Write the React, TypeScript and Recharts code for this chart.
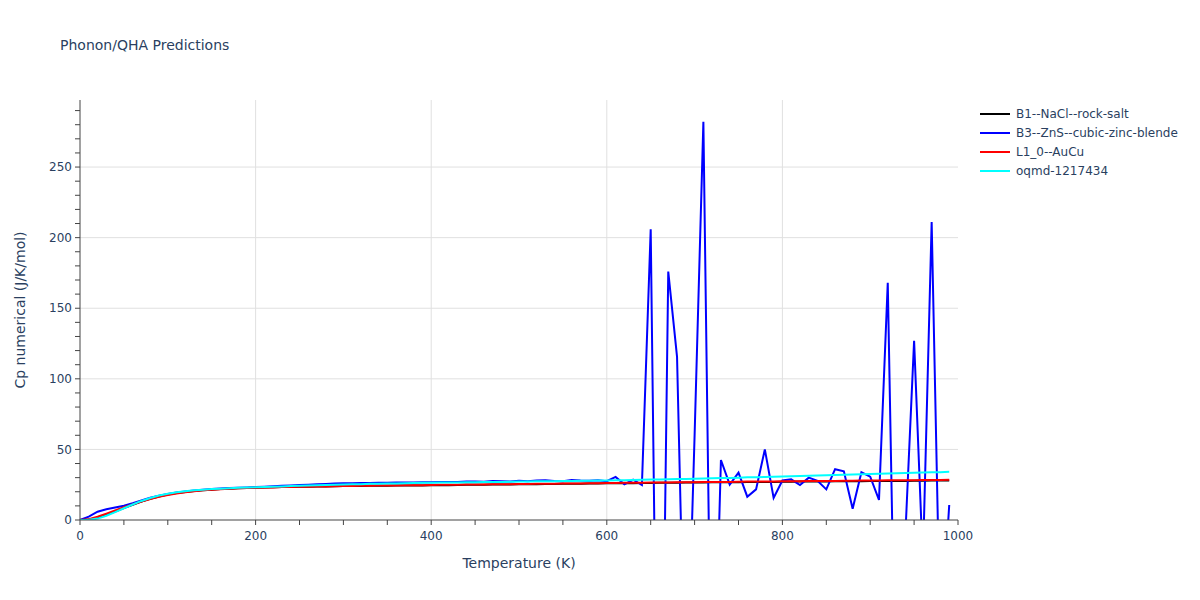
import React from "react";
import { LineChart, Line, XAxis, YAxis, CartesianGrid } from "recharts";

const temps = [
  0, 10, 20, 30, 40, 50, 60, 70, 80, 90,
  100, 110, 120, 130, 140, 150, 160, 170, 180, 190,
  200, 210, 220, 230, 240, 250, 260, 270, 280, 290,
  300, 310, 320, 330, 340, 350, 360, 370, 380, 390,
  400, 410, 420, 430, 440, 450, 460, 470, 480, 490,
  500, 510, 520, 530, 540, 550, 560, 570, 580, 590,
  600, 610, 620, 630, 640, 650, 660, 670, 680, 690,
  700, 710, 720, 730, 740, 750, 760, 770, 780, 790,
  800, 810, 820, 830, 840, 850, 860, 870, 880, 890,
  900, 910, 920, 930, 940, 950, 960, 970, 980, 990,
];

const b1RockSalt = [
  0, 0.3, 1.5, 3.6, 6.0, 8.4, 10.8, 13.0, 15.0, 16.7,
  18.0, 19.1, 19.9, 20.6, 21.1, 21.5, 21.9, 22.2, 22.5, 22.7,
  22.9, 23.0, 23.2, 23.3, 23.4, 23.5, 23.6, 23.7, 23.8, 23.9,
  24.0, 24.0, 24.1, 24.2, 24.2, 24.3, 24.4, 24.4, 24.5, 24.5,
  24.6, 24.7, 24.7, 24.8, 24.9, 24.9, 25.0, 25.1, 25.1, 25.2,
  25.3, 25.3, 25.4, 25.5, 25.5, 25.6, 25.7, 25.7, 25.8, 25.9,
  26.0, 26.0, 26.1, 26.1, 26.2, 26.2, 26.3, 26.3, 26.4, 26.5,
  26.6, 26.6, 26.7, 26.7, 26.8, 26.8, 26.9, 26.9, 27.0, 27.0,
  27.1, 27.1, 27.2, 27.2, 27.3, 27.3, 27.4, 27.4, 27.5, 27.5,
  27.6, 27.6, 27.7, 27.7, 27.7, 27.8, 27.8, 27.9, 27.9, 28.0,
];

const b3ZincBlende = [
  0, 2.4, 5.9, 7.6, 8.9, 10.1, 11.9, 13.9, 15.7, 17.2,
  18.4, 19.4, 20.2, 20.9, 21.4, 21.9, 22.3, 22.6, 22.9, 23.1,
  23.3, 23.6, 23.9, 24.2, 24.5, 24.8, 25.0, 25.3, 25.5, 25.8,
  26.0, 26.1, 26.2, 26.2, 26.3, 26.4, 26.5, 26.5, 26.6, 26.7,
  26.8, 26.9, 27.0, 27.0, 27.2, 27.3, 27.1, 27.6, 27.5, 27.3,
  27.8, 27.5, 28.0, 28.1, 27.6, 27.5, 28.3, 27.9, 27.8, 28.2,
  27.5, 30.5, 25.3, 28.5, 24.8, 206, -300, 176, 115.6, -150,
  60, 282, -180, 42.5, 25, 33.5, 16.5, 21.7, 50, 15.6,
  28, 28.8, 24.8, 30, 27.8, 21.7, 36, 34.5, 8, 33.8,
  30.7, 14.2, 168, -168, -11, 127, -30, 211, -90, 10.6,
];

const l10AuCu = [
  0, 0.6, 2.3, 4.5, 6.8, 9.0, 11.1, 13.1, 14.9, 16.4,
  17.7, 18.8, 19.7, 20.4, 21.0, 21.4, 21.8, 22.1, 22.4, 22.6,
  22.8, 23.0, 23.1, 23.3, 23.4, 23.5, 23.6, 23.7, 23.8, 23.9,
  24.0, 24.1, 24.2, 24.3, 24.4, 24.4, 24.5, 24.6, 24.6, 24.7,
  24.8, 24.9, 24.9, 25.0, 25.1, 25.1, 25.2, 25.3, 25.3, 25.4,
  25.5, 25.5, 25.6, 25.7, 25.7, 25.8, 25.9, 25.9, 26.0, 26.1,
  26.2, 26.2, 26.3, 26.4, 26.4, 26.5, 26.6, 26.6, 26.7, 26.7,
  26.8, 26.9, 26.9, 27.0, 27.0, 27.1, 27.2, 27.2, 27.3, 27.3,
  27.4, 27.5, 27.5, 27.6, 27.6, 27.7, 27.7, 27.8, 27.8, 27.9,
  28.0, 28.0, 28.1, 28.1, 28.2, 28.2, 28.3, 28.3, 28.4, 28.5,
];

const oqmd1217434 = [
  0, 0.1, 1.0, 3.0, 5.6, 8.3, 11.0, 13.5, 15.6, 17.3,
  18.6, 19.6, 20.4, 21.0, 21.5, 21.9, 22.2, 22.5, 22.8, 23.0,
  23.2, 23.4, 23.6, 23.8, 24.0, 24.2, 24.4, 24.6, 24.8, 25.0,
  25.2, 25.3, 25.4, 25.6, 25.7, 25.8, 25.9, 26.0, 26.2, 26.3,
  26.4, 26.5, 26.6, 26.6, 26.7, 26.8, 26.9, 27.0, 27.0, 27.1,
  27.2, 27.3, 27.4, 27.4, 27.5, 27.6, 27.7, 27.8, 27.8, 27.9,
  28.0, 28.1, 28.2, 28.4, 28.5, 28.6, 28.7, 28.8, 29.0, 29.1,
  29.2, 29.4, 29.5, 29.7, 29.8, 30.0, 30.2, 30.3, 30.5, 30.6,
  30.8, 31.0, 31.2, 31.3, 31.5, 31.7, 31.9, 32.1, 32.2, 32.4,
  32.6, 32.8, 32.9, 33.1, 33.3, 33.4, 33.6, 33.8, 33.9, 34.1,
];

const xTicks = [0, 50, 100, 150, 200, 250, 300, 350, 400, 450, 500, 550, 600, 650, 700, 750, 800, 850, 900, 950, 1000];
const xLabelTicks = [0, 200, 400, 600, 800, 1000];
const yTicks = [0, 10, 20, 30, 40, 50, 60, 70, 80, 90, 100, 110, 120, 130, 140, 150, 160, 170, 180, 190, 200, 210, 220, 230, 240, 250, 260, 270, 280, 290];
const yLabelTicks = [0, 50, 100, 150, 200, 250];
const xGrid = [200, 400, 600, 800];
const yGrid = [50, 100, 150, 200, 250];

const series = [
  { key: "b1", name: "B1--NaCl--rock-salt", color: "#000000", values: b1RockSalt },
  { key: "b3", name: "B3--ZnS--cubic-zinc-blende", color: "#0000ff", values: b3ZincBlende },
  { key: "l10", name: "L1_0--AuCu", color: "#ff0000", values: l10AuCu },
  { key: "oqmd", name: "oqmd-1217434", color: "#00ffff", values: oqmd1217434 },
];

const data = temps.map((t, i) => {
  const row: Record<string, number> = { T: t };
  series.forEach((s) => {
    row[s.key] = s.values[i];
  });
  return row;
});

const FONT = '"DejaVu Sans", Verdana, sans-serif';
const TEXT = "#2a3f5f";
const AXIS = "#444";

const XTick = (props: any) => {
  const { x, y, payload } = props;
  if (!xLabelTicks.includes(payload.value)) return <g />;
  return (
    <text x={x} y={y} dy={12.5} textAnchor="middle" fontFamily={FONT} fontSize={12} fill={TEXT}>
      {payload.value}
    </text>
  );
};

const YTick = (props: any) => {
  const { x, y, payload } = props;
  if (!yLabelTicks.includes(payload.value)) return <g />;
  return (
    <text x={x - 1} y={y} dy={4.2} textAnchor="end" fontFamily={FONT} fontSize={12} fill={TEXT}>
      {payload.value}
    </text>
  );
};

export default function App() {
  return (
    <div style={{ position: "absolute", left: 0, top: 0, width: 1200, height: 600, background: "#fff" }}>
      <LineChart
        width={1200}
        height={600}
        data={data}
        margin={{ top: 100, right: 242, bottom: 30, left: 20 }}
      >
        <CartesianGrid
          stroke="#e0e0e0"
          strokeWidth={1}
          verticalValues={xGrid}
          horizontalValues={yGrid}
        />
        <XAxis
          dataKey="T"
          type="number"
          domain={[0, 1000]}
          ticks={xTicks}
          interval={0}
          tickSize={5}
          height={50}
          axisLine={{ stroke: AXIS }}
          tickLine={{ stroke: AXIS }}
          tick={<XTick />}
        />
        <YAxis
          type="number"
          domain={[0, 297.5]}
          allowDataOverflow
          ticks={yTicks}
          interval={0}
          tickSize={5}
          width={60}
          axisLine={{ stroke: AXIS }}
          tickLine={{ stroke: AXIS }}
          tick={<YTick />}
        />
        {series.map((s) => (
          <Line
            key={s.key}
            type="linear"
            dataKey={s.key}
            name={s.name}
            stroke={s.color}
            strokeWidth={2}
            dot={false}
            activeDot={false}
            isAnimationActive={false}
          />
        ))}
      </LineChart>
      <svg
        width={1200}
        height={600}
        style={{ position: "absolute", left: 0, top: 0, pointerEvents: "none" }}
      >
        <text x={60} y={50} fontFamily={FONT} fontSize={14} fill={TEXT}>
          Phonon/QHA Predictions
        </text>
        <text x={519} y={568} textAnchor="middle" fontFamily={FONT} fontSize={14} fill={TEXT}>
          Temperature (K)
        </text>
        <text
          x={20}
          y={310}
          dy="0.35em"
          textAnchor="middle"
          transform="rotate(-90, 20, 310)"
          fontFamily={FONT}
          fontSize={14}
          fill={TEXT}
        >
          Cp numerical (J/K/mol)
        </text>
        {series.map((s, i) => (
          <g key={s.key}>
            <line x1={980} x2={1010} y1={114 + i * 19} y2={114 + i * 19} stroke={s.color} strokeWidth={2} />
            <text x={1016} y={114 + i * 19} dy="0.35em" fontFamily={FONT} fontSize={12} fill={TEXT}>
              {s.name}
            </text>
          </g>
        ))}
      </svg>
    </div>
  );
}
